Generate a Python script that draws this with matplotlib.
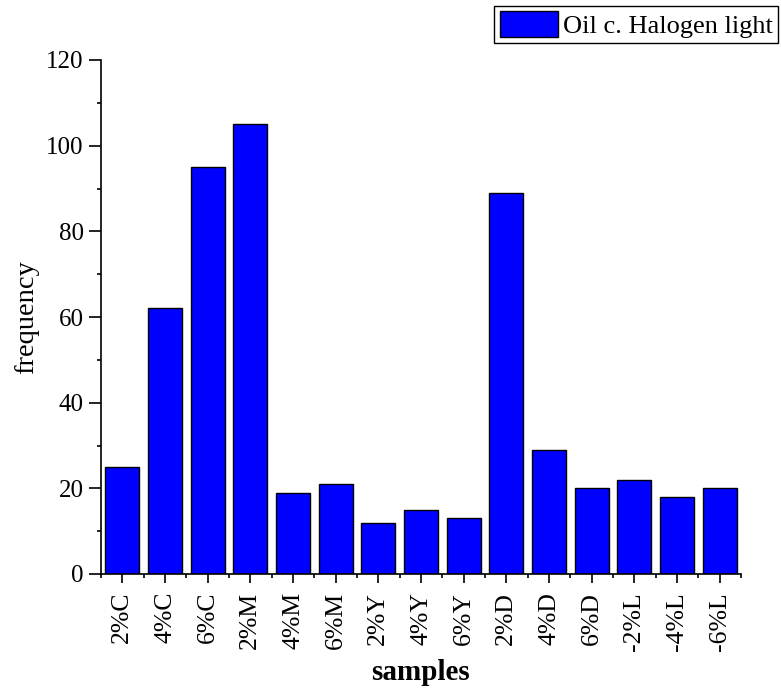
import numpy as np
import matplotlib
matplotlib.use("Agg")
import matplotlib.pyplot as plt
from matplotlib.ticker import MultipleLocator

# data
samples = ["2%C", "4%C", "6%C", "2%M", "4%M", "6%M", "2%Y", "4%Y", "6%Y",
           "2%D", "4%D", "6%D", "-2%L", "-4%L", "-6%L"]
frequency = [25, 62, 95, 105, 19, 21, 12, 15, 13, 89, 29, 20, 22, 18, 20]
series_name = "Oil c. Halogen light"

plt.rcParams["font.family"] = ["Liberation Serif", "DejaVu Serif"]

fig = plt.figure(figsize=(7.81, 6.89), dpi=100)
ax = fig.add_axes([101 / 781, 1 - 574 / 689, 640 / 781, 514 / 689])

x = np.arange(1, len(samples) + 1)
ax.bar(x, frequency, width=0.8, color="#0000ff", edgecolor="black",
       linewidth=1.0, label=series_name)

ax.set_xlim(0.5, len(samples) + 0.5)
ax.set_ylim(0, 120)
ax.set_xticks(x)
ax.set_xticklabels(samples, rotation=90, fontsize=18.5)
ax.xaxis.set_minor_locator(MultipleLocator(1, offset=0.5))
ax.yaxis.set_major_locator(MultipleLocator(20))
ax.yaxis.set_minor_locator(MultipleLocator(10))
ax.tick_params(axis="y", labelsize=18, pad=4)
ax.tick_params(which="major", direction="out", width=1.2)
ax.tick_params(which="minor", direction="out", length=3, width=1.2)
ax.tick_params(axis="x", which="major", length=6.8, pad=6)
ax.tick_params(axis="y", which="major", length=8.5)

for side in ("top", "right"):
    ax.spines[side].set_visible(False)
for side in ("left", "bottom"):
    ax.spines[side].set_linewidth(1.2)

ax.set_ylabel("frequency", fontsize=20.5, labelpad=5)
ax.set_xlabel("samples", fontsize=21, fontweight="bold", labelpad=6)

leg = fig.legend(loc="upper right", bbox_to_anchor=(778 / 781, 1 - 6 / 689),
                 fontsize=19, fancybox=False, framealpha=1, edgecolor="black",
                 handlelength=2.2, handleheight=1.1, handletextpad=0.2,
                 borderpad=0.2, borderaxespad=0)
leg.get_frame().set_linewidth(1.0)

fig.savefig("out.png", dpi=100)
